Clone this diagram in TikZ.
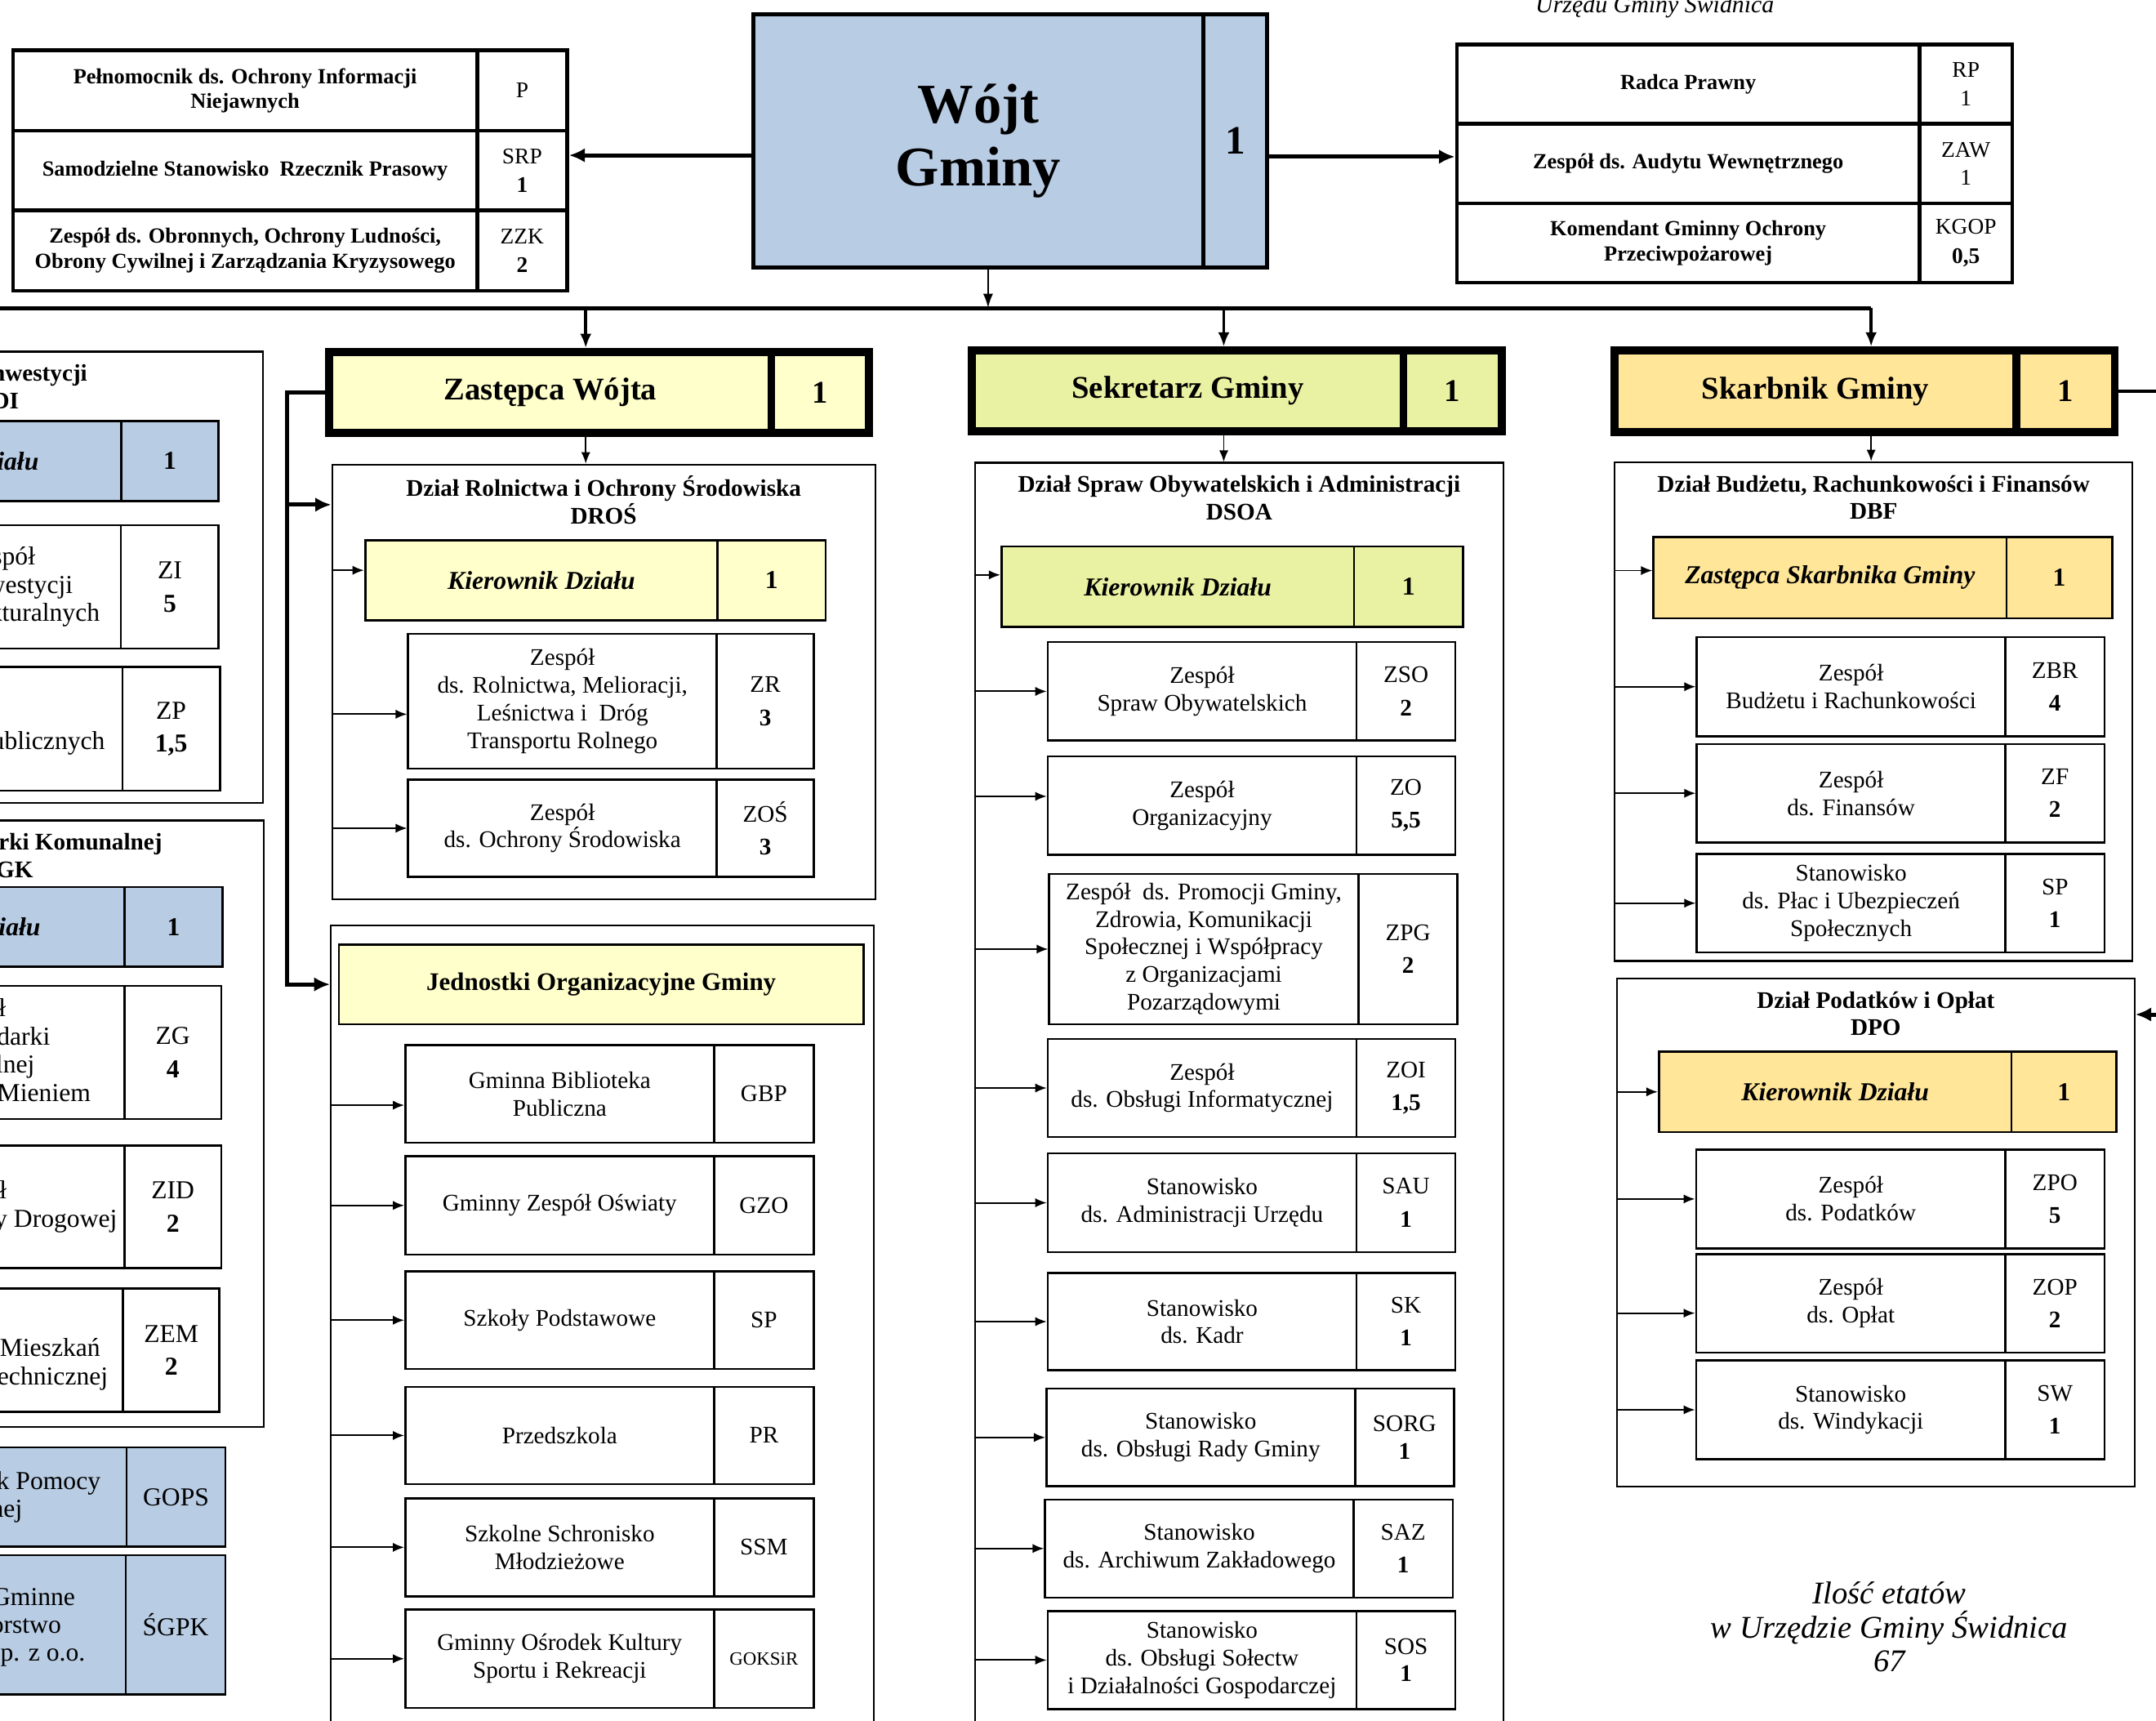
\documentclass[tikz,border=0pt]{standalone}
\usepackage{fontspec}
\setmainfont{Liberation Serif}
\usetikzlibrary{arrows.meta,positioning}

\definecolor{wojtblue}{RGB}{184,204,228}
\definecolor{zastyellow}{RGB}{255,255,204}
\definecolor{sekgreen}{RGB}{233,242,162}
\definecolor{skarbgold}{RGB}{255,230,153}

\newcommand{\topfont}{\bfseries\fontsize{7.5}{8.6}\selectfont}
\newcommand{\topcodefont}{\fontsize{7.8}{10}\selectfont}
\newcommand{\wojtfont}{\bfseries\fontsize{19.5}{22}\selectfont}
\newcommand{\wojtnumfont}{\bfseries\fontsize{14}{16}\selectfont}
\newcommand{\headfont}{\bfseries\fontsize{11}{13}\selectfont}
\newcommand{\titlefont}{\bfseries\fontsize{8.3}{9.6}\selectfont}
\newcommand{\kierfont}{\bfseries\itshape\fontsize{9}{11}\selectfont}
\newcommand{\kiernumfont}{\bfseries\fontsize{9}{11}\selectfont}
\newcommand{\jofont}{\bfseries\fontsize{8.8}{10}\selectfont}
\newcommand{\unitfont}{\fontsize{8.3}{9.6}\selectfont}
\newcommand{\codefont}{\fontsize{8.3}{11.5}\selectfont}
\newcommand{\leftfont}{\fontsize{9}{9.8}\selectfont}
\newcommand{\leftcodefont}{\fontsize{9}{11.5}\selectfont}
\newcommand{\urzfont}{\itshape\fontsize{8.5}{10}\selectfont}
\newcommand{\etatfont}{\itshape\fontsize{11}{11.8}\selectfont}

% one unit of the grid below
\newcommand{\ux}{0.016837cm}
% box from corner (x1,y1) to corner (x2,y2)
\newcommand{\boxat}[7][]{%
  \node[#1, minimum width={((#5)-(#3))*\ux}, minimum height={((#6)-(#4))*\ux}]
    (#2) at ({((#3)+(#5))/2},{((#4)+(#6))/2}) {#7};}

\begin{document}
\begin{tikzpicture}
	% Styles
	[
	x=0.016837cm, y=-0.016837cm,
	topcell/.style={draw, line width=1.3pt, fill=white, align=center, inner sep=1pt, font=\topfont},
	topcode/.style={topcell, font=\topcodefont},
	wojtcell/.style={draw, line width=1.4pt, fill=wojtblue, align=center, inner sep=1pt, font=\wojtfont},
	headcell/.style={draw, line width=2.8pt, align=center, inner sep=1pt, font=\headfont},
	frame/.style={draw, line width=0.6pt},
	dtitle/.style={align=center, inner sep=0pt, font=\titlefont},
	kiercell/.style={draw, line width=0.8pt, align=center, inner sep=1pt, font=\kierfont},
	kiercode/.style={kiercell, font=\kiernumfont},
	cell/.style={draw, line width=0.7pt, fill=white, align=center, inner sep=1pt, font=\unitfont},
	codecell/.style={cell, font=\codefont},
	leftcell/.style={cell, font=\leftfont},
	leftcode/.style={cell, font=\leftcodefont},
	sub/.style={line width=0.55pt, -{Latex[length=4pt,width=3.2pt]}},
	drop/.style={line width=1.1pt, -{Latex[length=5pt,width=4pt]}},
	link/.style={line width=1.4pt, -{Latex[length=5.5pt,width=5pt]}},
	]

	\useasboundingbox (0,0) rectangle (1568,1251);

	% Bus under the Wojt
	\coordinate (busL) at (-40,224);
	\coordinate (bw) at (718.6,224);
	\coordinate (bz) at (426,224);
	\coordinate (bs) at (890,224);
	\coordinate (bk) at (1360.8,224);
	\draw[line width=1.4pt] (busL) -- (bk);

	% Top row
	\boxat[topcell]{pel}{9.5}{36.5}{347}{95}{Pełnomocnik ds. Ochrony Informacji\\Niejawnych}
	\boxat[topcode]{pelc}{347}{36.5}{412.5}{95}{P}
	\boxat[topcell]{srp}{9.5}{95}{347}{153}{Samodzielne Stanowisko\ \ Rzecznik Prasowy}
	\boxat[topcode]{srpc}{347}{95}{412.5}{153}{SRP\\\textbf{1}}
	\boxat[topcell]{zzk}{9.5}{153}{347}{211.5}{Zespół ds. Obronnych, Ochrony Ludności,\\Obrony Cywilnej i Zarządzania Kryzysowego}
	\boxat[topcode]{zzkc}{347}{153}{412.5}{211.5}{ZZK\\\textbf{2}}

	\boxat[wojtcell]{wojt}{548}{10.4}{875}{194.5}{Wójt\\Gminy}
	\boxat[wojtcell, font=\wojtnumfont]{wojtc}{875}{10.4}{921.5}{194.5}{1}

	\boxat[topcell]{rp}{1059.5}{32.5}{1396}{90}{Radca Prawny}
	\boxat[topcode]{rpc}{1396}{32.5}{1463.5}{90}{RP\\1}
	\boxat[topcell]{zaw}{1059.5}{90}{1396}{148}{Zespół ds. Audytu Wewnętrznego}
	\boxat[topcode, font=\fontsize{7.8}{9.6}\selectfont]{zawc}{1396}{90}{1463.5}{148}{ZAW\\1}
	\boxat[topcell]{kgop}{1059.5}{148}{1396}{205.5}{Komendant Gminny Ochrony\\Przeciwpożarowej}
	\boxat[topcode]{kgopc}{1396}{148}{1463.5}{205.5}{KGOP\\\textbf{0,5}}

	\node[font=\urzfont, anchor=base] (urzad) at (1203.5,9) {Urzędu Gminy Świdnica};

	% Deputies
	\boxat[headcell, fill=zastyellow]{zast}{239.3}{256}{561}{315}{Zastępca Wójta}
	\boxat[headcell, fill=zastyellow]{zastc}{561}{256}{632}{315}{1}
	\boxat[headcell, fill=sekgreen]{sekr}{707}{255}{1020.7}{313.5}{Sekretarz Gminy}
	\boxat[headcell, fill=sekgreen]{sekrc}{1020.7}{255}{1092}{313.5}{1}
	\boxat[headcell, fill=skarbgold]{skarb}{1174}{255}{1466.6}{314}{Skarbnik Gminy}
	\boxat[headcell, fill=skarbgold]{skarbc}{1466.6}{255}{1538}{314}{1}

	% Department frames
	\boxat[frame]{di}{-183}{255.7}{191}{584}{}
	\boxat[frame]{dgk}{-183}{596.6}{191.6}{1037.6}{}
	\boxat[frame]{dros}{241.5}{337.8}{636.5}{654}{}
	\boxat[frame]{jo}{240.6}{673}{635.6}{1300}{}
	\boxat[frame]{dsoa}{709}{336.5}{1093.5}{1300}{}
	\boxat[frame]{dbf}{1174.4}{336}{1550.8}{698.8}{}
	\boxat[frame]{dpo}{1176}{711.4}{1552.4}{1080.8}{}

	\node[dtitle] (dit) at ([yshift=-12.6pt]di.north) {Dział Inwestycji\\DI};
	\node[dtitle] (dgkt) at ([yshift=-12.6pt]dgk.north) {Dział Gospodarki Komunalnej\\DGK};
	\node[dtitle] (drost) at ([yshift=-12.6pt]dros.north) {Dział Rolnictwa i Ochrony Środowiska\\DROŚ};
	\node[dtitle] (dsoat) at ([yshift=-12.6pt]dsoa.north) {Dział Spraw Obywatelskich i Administracji\\DSOA};
	\node[dtitle] (dbft) at ([yshift=-12.6pt]dbf.north) {Dział Budżetu, Rachunkowości i Finansów\\DBF};
	\node[dtitle] (dpot) at ([yshift=-12.6pt]dpo.north) {Dział Podatków i Opłat\\DPO};

	% Left column (DI, DGK)
	\boxat[kiercell, fill=wojtblue]{kdi}{-168}{306}{88}{364.4}{Kierownik Działu}
	\boxat[kiercode, fill=wojtblue]{kdic}{88}{306}{159}{364.4}{1}
	\boxat[leftcell]{zi}{-88}{382}{88}{471.7}{Zespół\\ds. Inwestycji\\Infrastrukturalnych}
	\boxat[leftcode]{zic}{88}{382}{159}{471.7}{ZI\\\textbf{5}}
	\boxat[leftcell]{zp}{-142}{485}{89}{575}{Zespół\\ds. Zamówień Publicznych}
	\boxat[leftcode]{zpc}{89}{485}{160}{575}{ZP\\\textbf{1,5}}
	\boxat[kiercell, fill=wojtblue]{kdgk}{-168}{645}{90.5}{703}{Kierownik Działu}
	\boxat[kiercode, fill=wojtblue]{kdgkc}{90.5}{645}{162}{703}{1}
	\boxat[leftcell]{zg}{-133}{717}{90.5}{813.7}{Zespół\\ds. Gospodarki\\Komunalnej\\i Zarządzania Mieniem}
	\boxat[leftcode]{zgc}{90.5}{717}{161}{813.7}{ZG\\\textbf{4}}
	\boxat[leftcell]{zid}{-132}{833}{90.5}{922}{Zespół\\ds. Infrastruktury Drogowej}
	\boxat[leftcode]{zidc}{90.5}{833}{161}{922}{ZID\\\textbf{2}}
	\boxat[leftcell]{zem}{-142}{937}{89.5}{1026.7}{Zespół\\ds. Eksploatacji Mieszkań\\i Infrastruktury Technicznej}
	\boxat[leftcode]{zemc}{89.5}{937}{159.6}{1026.7}{ZEM\\\textbf{2}}
	\boxat[leftcell, fill=wojtblue]{gops}{-142}{1052.6}{92}{1124.7}{Gminny Ośrodek Pomocy\\Społecznej}
	\boxat[leftcode, fill=wojtblue]{gopsc}{92}{1052.6}{164}{1124.7}{GOPS}
	\boxat[leftcell, fill=wojtblue]{sgpk}{-132}{1131}{91.5}{1232}{Świdnickie Gminne\\Przedsiębiorstwo\\Komunalne Sp. z o.o.}
	\boxat[leftcode, fill=wojtblue]{sgpkc}{91.5}{1131}{164}{1232}{ŚGPK}

	% DROS
	\boxat[kiercell, fill=zastyellow]{kdros}{265.6}{393}{521.9}{451}{Kierownik Działu}
	\boxat[kiercode, fill=zastyellow]{kdrosc}{521.9}{393}{600.5}{451}{1}
	\boxat[cell]{zr}{296.8}{460.9}{521.3}{559}{Zespół\\ds. Rolnictwa, Melioracji,\\Leśnictwa i\ \ Dróg\\Transportu Rolnego}
	\boxat[codecell]{zrc}{521.3}{460.9}{591.9}{559}{ZR\\\textbf{3}}
	\boxat[cell]{zos}{296.8}{567}{521.3}{637.5}{Zespół\\ds. Ochrony Środowiska}
	\boxat[codecell]{zosc}{521.3}{567}{591.9}{637.5}{ZOŚ\\\textbf{3}}

	% Jednostki
	\boxat[kiercell, fill=zastyellow, font=\jofont]{johead}{246.5}{686.8}{628}{744.8}{Jednostki Organizacyjne Gminy}
	\boxat[cell]{gbp}{294.8}{760}{519.3}{831}{Gminna Biblioteka\\Publiczna}
	\boxat[codecell]{gbpc}{519.3}{760}{591.8}{831}{GBP}
	\boxat[cell]{gzo}{294.8}{840.8}{519.3}{912.3}{Gminny Zespół Oświaty}
	\boxat[codecell]{gzoc}{519.3}{840.8}{591.8}{912.3}{GZO}
	\boxat[cell]{szp}{294.8}{924.6}{519.3}{995.4}{Szkoły Podstawowe}
	\boxat[codecell]{szpc}{519.3}{924.6}{591.8}{995.4}{SP}
	\boxat[cell]{pr}{294.8}{1008.4}{519.3}{1079.2}{Przedszkola}
	\boxat[codecell]{prc}{519.3}{1008.4}{591.8}{1079.2}{PR}
	\boxat[cell]{ssm}{294.8}{1089.5}{519.3}{1160.8}{Szkolne Schronisko\\Młodzieżowe}
	\boxat[codecell]{ssmc}{519.3}{1089.5}{591.8}{1160.8}{SSM}
	\boxat[cell]{goksir}{294.8}{1170.3}{519.3}{1242}{Gminny Ośrodek Kultury\\Sportu i Rekreacji}
	\boxat[codecell, font=\fontsize{6.5}{8}\selectfont]{goksirc}{519.3}{1170.3}{591.8}{1242}{GOKSiR}

	% DSOA
	\boxat[kiercell, fill=sekgreen]{kdsoa}{728.4}{397.4}{984.7}{455.8}{Kierownik Działu}
	\boxat[kiercode, fill=sekgreen]{kdsoac}{984.7}{397.4}{1064}{455.8}{1}
	\boxat[cell]{zso}{762}{467}{986.5}{538.5}{Zespół\\Spraw Obywatelskich}
	\boxat[codecell]{zsoc}{986.5}{467}{1058.5}{538.5}{ZSO\\\textbf{2}}
	\boxat[cell]{zo}{762}{550}{986.5}{621.5}{Zespół\\Organizacyjny}
	\boxat[codecell]{zoc}{986.5}{550}{1058.5}{621.5}{ZO\\\textbf{5,5}}
	\boxat[cell]{zpg}{763}{635.5}{988}{744.8}{Zespół\ \ ds. Promocji Gminy,\\Zdrowia, Komunikacji\\Społecznej i Współpracy\\z Organizacjami\\Pozarządowymi}
	\boxat[codecell]{zpgc}{988}{635.5}{1060}{744.8}{ZPG\\\textbf{2}}
	\boxat[cell]{zoi}{762}{755.5}{986.5}{826.8}{Zespół\\ds. Obsługi Informatycznej}
	\boxat[codecell]{zoic}{986.5}{755.5}{1058.5}{826.8}{ZOI\\\textbf{1,5}}
	\boxat[cell]{sau}{762}{838.8}{986.5}{910.4}{Stanowisko\\ds. Administracji Urzędu}
	\boxat[codecell]{sauc}{986.5}{838.8}{1058.5}{910.4}{SAU\\\textbf{1}}
	\boxat[cell]{sk}{762}{925.6}{986.5}{996.4}{Stanowisko\\ds. Kadr}
	\boxat[codecell]{skc}{986.5}{925.6}{1058.5}{996.4}{SK\\\textbf{1}}
	\boxat[cell]{sorg}{761}{1009.7}{985.5}{1080.8}{Stanowisko\\ds. Obsługi Rady Gminy}
	\boxat[codecell, font=\unitfont]{sorgc}{985.5}{1009.7}{1057.5}{1080.8}{SORG\\\textbf{1}}
	\boxat[cell]{saz}{760}{1090.4}{984.5}{1161.6}{Stanowisko\\ds. Archiwum Zakładowego}
	\boxat[codecell]{sazc}{984.5}{1090.4}{1056.5}{1161.6}{SAZ\\\textbf{1}}
	\boxat[cell]{sos}{762}{1171.6}{986.5}{1242.7}{Stanowisko\\ds. Obsługi Sołectw\\i Działalności Gospodarczej}
	\boxat[codecell, font=\unitfont]{sosc}{986.5}{1171.6}{1058.5}{1242.7}{SOS\\\textbf{1}}

	% DBF
	\boxat[kiercell, fill=skarbgold]{zsk}{1202.6}{390.6}{1459.3}{449.6}{Zastępca Skarbnika Gminy}
	\boxat[kiercode, fill=skarbgold]{zskc}{1459.3}{390.6}{1536}{449.6}{1}
	\boxat[cell]{zbr}{1234}{463.3}{1458.5}{535.4}{Zespół\\Budżetu i Rachunkowości}
	\boxat[codecell]{zbrc}{1458.5}{463.3}{1530.5}{535.4}{ZBR\\\textbf{4}}
	\boxat[cell]{zf}{1234}{541}{1458.5}{612.7}{Zespół\\ds. Finansów}
	\boxat[codecell]{zfc}{1458.5}{541}{1530.5}{612.7}{ZF\\\textbf{2}}
	\boxat[cell]{spu}{1234}{620.9}{1458.5}{692.6}{Stanowisko\\ds. Płac i Ubezpieczeń\\Społecznych}
	\boxat[codecell]{spuc}{1458.5}{620.9}{1530.5}{692.6}{SP\\\textbf{1}}

	% DPO
	\boxat[kiercell, fill=skarbgold]{kdpo}{1206.5}{764.7}{1462.9}{823.2}{Kierownik Działu}
	\boxat[kiercode, fill=skarbgold]{kdpoc}{1462.9}{764.7}{1539.3}{823.2}{1}
	\boxat[cell]{zpo}{1233.5}{835.9}{1458.5}{907.8}{Zespół\\ds. Podatków}
	\boxat[codecell]{zpoc}{1458.5}{835.9}{1530.5}{907.8}{ZPO\\\textbf{5}}
	\boxat[cell]{zop}{1233.5}{912}{1458.5}{983.5}{Zespół\\ds. Opłat}
	\boxat[codecell]{zopc}{1458.5}{912}{1530.5}{983.5}{ZOP\\\textbf{2}}
	\boxat[cell]{sw}{1233.5}{989.2}{1458.5}{1061.1}{Stanowisko\\ds. Windykacji}
	\boxat[codecell]{swc}{1458.5}{989.2}{1530.5}{1061.1}{SW\\\textbf{1}}

	\node[align=center, font=\etatfont] (etaty) at (1374,1183) {Ilość etatów\\w Urzędzie Gminy Świdnica\\67};

	% Connections
	\coordinate (lhook) at ([yshift=5.3pt]srpc.east);
	\draw[link] (wojt.west |- lhook) -- (lhook);
	\coordinate (rhook) at ([yshift=2.4pt]zaw.west);
	\draw[link] (wojtc.east |- rhook) -- (rhook);
	\draw[line width=0.7pt, -{Latex[length=5pt,width=3.5pt]}] (bw |- wojt.south) -- (bw);
	\draw[drop] (bz) -- (bz |- zast.north);
	\draw[drop] (bs) -- (bs |- sekr.north);
	\draw[drop] (bk) -- (bk |- skarb.north);
	\draw[sub] (bz |- zast.south) -- (bz |- dros.north);
	\draw[sub] (bs |- sekr.south) -- (bs |- dsoa.north);
	\draw[sub] (bk |- skarb.south) -- (bk |- dbf.north);

	\coordinate (spine) at (209,367);
	\draw[link] (zast.west) -| (spine) |- (jo.west |- johead);
	\draw[link] (spine) -- (spine -| dros.west);

	\coordinate (skturn) at (1600,737.7);
	\draw[link] (skarbc.east) -| (skturn) -- (skturn -| dpo.east);

	\foreach \f/\u/\s in {dros/kdros/3.5pt, dros/zr/-4.5pt, dros/zos/0pt,
		jo/gbp/-3.9pt, jo/gzo/0pt, jo/szp/0pt, jo/pr/0pt, jo/ssm/0pt, jo/goksir/0pt,
		dsoa/kdsoa/4.1pt, dsoa/zso/0pt, dsoa/zo/3.2pt, dsoa/zpg/0pt, dsoa/zoi/0pt,
		dsoa/sau/0pt, dsoa/sk/0pt, dsoa/sorg/0pt, dsoa/saz/0pt, dsoa/sos/0pt,
		dbf/zsk/2.5pt, dbf/zbr/0pt, dbf/zf/0pt, dbf/spu/0pt,
		dpo/kdpo/0pt, dpo/zpo/0pt, dpo/zop/-3.4pt, dpo/sw/0pt}
		\draw[sub] ([yshift=\s]\u.west -| \f.west) -- ([yshift=\s]\u.west);

\end{tikzpicture}
\end{document}
